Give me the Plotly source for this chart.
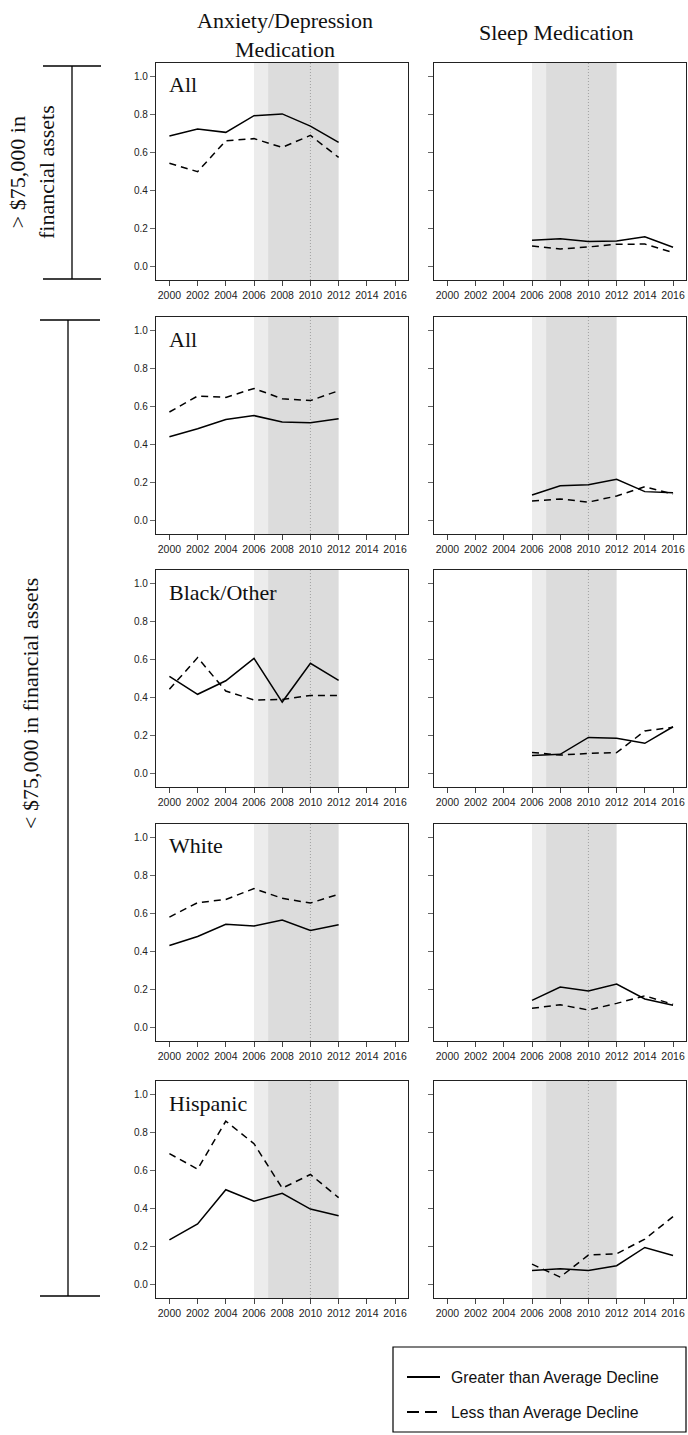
import plotly.graph_objects as go

W, H = 688, 1435

years_anx = [2000, 2002, 2004, 2006, 2008, 2010, 2012]
years_sleep = [2006, 2008, 2010, 2012, 2014, 2016]
tick_years = [2000, 2002, 2004, 2006, 2008, 2010, 2012, 2014, 2016]
y_ticks = [0.0, 0.2, 0.4, 0.6, 0.8, 1.0]

row_labels = ["All", "All", "Black/Other", "White", "Hispanic"]
col_titles = ["Anxiety/Depression<br>Medication", "Sleep Medication"]

# Anxiety/Depression medication: greater (solid) / less (dashed) than average decline
anx_greater = [
    [0.688, 0.725, 0.707, 0.795, 0.804, 0.740, 0.654],
    [0.442, 0.484, 0.533, 0.553, 0.519, 0.516, 0.537],
    [0.512, 0.418, 0.489, 0.607, 0.377, 0.581, 0.491],
    [0.433, 0.480, 0.544, 0.535, 0.567, 0.512, 0.542],
    [0.236, 0.320, 0.500, 0.439, 0.481, 0.398, 0.363],
]
anx_less = [
    [0.544, 0.500, 0.663, 0.674, 0.628, 0.691, 0.575],
    [0.572, 0.656, 0.649, 0.696, 0.642, 0.632, 0.684],
    [0.444, 0.611, 0.435, 0.388, 0.391, 0.412, 0.412],
    [0.582, 0.658, 0.675, 0.732, 0.681, 0.656, 0.702],
    [0.690, 0.608, 0.861, 0.742, 0.508, 0.580, 0.458],
]
# Sleep medication
sleep_greater = [
    [0.139, 0.147, 0.132, 0.135, 0.158, 0.102],
    [0.135, 0.184, 0.189, 0.218, 0.153, 0.147],
    [0.096, 0.102, 0.191, 0.186, 0.160, 0.247],
    [0.144, 0.214, 0.193, 0.230, 0.151, 0.118],
    [0.075, 0.084, 0.075, 0.100, 0.196, 0.154],
]
sleep_less = [
    [0.109, 0.093, 0.104, 0.118, 0.119, 0.075],
    [0.104, 0.114, 0.098, 0.130, 0.179, 0.140],
    [0.112, 0.098, 0.107, 0.111, 0.225, 0.244],
    [0.102, 0.121, 0.093, 0.128, 0.168, 0.123],
    [0.108, 0.040, 0.156, 0.163, 0.240, 0.358],
]

legend_labels = ["Greater than Average Decline", "Less than Average Decline"]
group_labels = ["&gt; $75,000 in<br>financial assets", "&lt; $75,000 in financial assets"]

# shaded periods and reference line
light_band = (2006, 2007)
dark_band = (2007, 2012)
ref_year = 2010

X_RANGE = [1999.05, 2016.92]
Y_RANGE = [-0.07, 1.072]

# layout (pixels)
col_x = [(156, 408), (434, 686)]
row_top = [63, 317, 570, 824, 1081]
panel_h = 217

SERIF = "Liberation Serif"
SANS = "Liberation Sans"
DASH = "7px,5px"
LEGEND_DASH = "12px,6px"

def px_x(p):
    return p / W

def px_y(p):
    return 1 - p / H

fig = go.Figure()
layout = dict(
    width=W, height=H, margin=dict(l=0, r=0, t=0, b=0),
    paper_bgcolor="white", plot_bgcolor="white", showlegend=False,
)
shapes = []
annotations = []

idx = 0
for r in range(5):
    for c in range(2):
        idx += 1
        xa = "xaxis" if idx == 1 else f"xaxis{idx}"
        ya = "yaxis" if idx == 1 else f"yaxis{idx}"
        xr = "x" if idx == 1 else f"x{idx}"
        yr = "y" if idx == 1 else f"y{idx}"
        x0, x1 = col_x[c]
        top = row_top[r]
        bot = top + panel_h
        layout[xa] = dict(
            domain=[px_x(x0), px_x(x1)], anchor=yr, range=X_RANGE,
            tickvals=tick_years, ticktext=[str(t) for t in tick_years],
            showgrid=False, zeroline=False, showline=True, mirror=True,
            linecolor="#222", linewidth=1.2, ticks="outside", ticklen=5,
            tickcolor="#444", tickwidth=1,
            tickfont=dict(family=SANS, size=10.5, color="#222"),
        )
        layout[ya] = dict(
            domain=[px_y(bot), px_y(top)], anchor=xr, range=Y_RANGE,
            tickvals=y_ticks, ticktext=[f"{v:.1f}" for v in y_ticks],
            showticklabels=(c == 0),
            showgrid=False, zeroline=False, showline=True, mirror=True,
            linecolor="#222", linewidth=1.2, ticks="outside", ticklen=5,
            tickcolor="#666", tickwidth=1,
            tickfont=dict(family=SANS, size=10, color="#222"),
        )
        # shading
        shapes.append(dict(type="rect", xref=xr, yref=f"{yr} domain",
                           x0=light_band[0], x1=light_band[1], y0=0, y1=1,
                           fillcolor="#ececec", line=dict(width=0), layer="below"))
        shapes.append(dict(type="rect", xref=xr, yref=f"{yr} domain",
                           x0=dark_band[0], x1=dark_band[1], y0=0, y1=1,
                           fillcolor="#dcdcdc", line=dict(width=0), layer="below"))
        shapes.append(dict(type="line", xref=xr, yref=f"{yr} domain",
                           x0=ref_year, x1=ref_year, y0=0, y1=1,
                           line=dict(color="#a0a0a0", width=1, dash="1px,2px"), layer="below"))
        if c == 0:
            xs, g, l = years_anx, anx_greater[r], anx_less[r]
        else:
            xs, g, l = years_sleep, sleep_greater[r], sleep_less[r]
        fig.add_trace(go.Scatter(x=xs, y=g, mode="lines", xaxis=xr, yaxis=yr,
                                 line=dict(color="black", width=1.5),
                                 name=legend_labels[0], hoverinfo="skip"))
        fig.add_trace(go.Scatter(x=xs, y=l, mode="lines", xaxis=xr, yaxis=yr,
                                 line=dict(color="black", width=1.5, dash=DASH),
                                 name=legend_labels[1], hoverinfo="skip"))
        if c == 0:
            annotations.append(dict(xref="paper", yref="paper", x=px_x(167), y=px_y(top + 22),
                                    xanchor="left", yanchor="middle", showarrow=False,
                                    text=row_labels[r],
                                    font=dict(family=SERIF, size=22, color="#111")))

# column titles
annotations.append(dict(xref="paper", yref="paper", x=px_x(285), y=px_y(35),
                        xanchor="center", yanchor="middle", showarrow=False,
                        text=col_titles[0], font=dict(family=SERIF, size=22, color="#111")))
annotations.append(dict(xref="paper", yref="paper", x=px_x(556), y=px_y(33),
                        xanchor="center", yanchor="middle", showarrow=False,
                        text=col_titles[1], font=dict(family=SERIF, size=22, color="#111")))

# group brackets
def bracket(xv, y0, y1, xc0, xc1):
    shapes.append(dict(type="line", xref="paper", yref="paper", x0=px_x(xv), x1=px_x(xv),
                       y0=px_y(y0), y1=px_y(y1), line=dict(color="black", width=1.3)))
    for yy in (y0, y1):
        shapes.append(dict(type="line", xref="paper", yref="paper", x0=px_x(xc0), x1=px_x(xc1),
                           y0=px_y(yy), y1=px_y(yy), line=dict(color="black", width=1.3)))

bracket(72, 66, 279, 43, 101)
bracket(68, 320, 1296, 40, 100)

annotations.append(dict(xref="paper", yref="paper", x=px_x(32), y=px_y(172),
                        xanchor="center", yanchor="middle", showarrow=False, textangle=-90,
                        text=group_labels[0], font=dict(family=SERIF, size=22, color="#111")))
annotations.append(dict(xref="paper", yref="paper", x=px_x(30), y=px_y(704),
                        xanchor="center", yanchor="middle", showarrow=False, textangle=-90,
                        text=group_labels[1], font=dict(family=SERIF, size=22, color="#111")))

# legend box
shapes.append(dict(type="rect", xref="paper", yref="paper", x0=px_x(393), x1=px_x(686),
                   y0=px_y(1432), y1=px_y(1347), line=dict(color="black", width=1.2),
                   fillcolor="white"))
for i, (yy, dash) in enumerate([(1377, "solid"), (1412, LEGEND_DASH)]):
    shapes.append(dict(type="line", xref="paper", yref="paper", x0=px_x(407), x1=px_x(440),
                       y0=px_y(yy), y1=px_y(yy), line=dict(color="black", width=2, dash=dash)))
    annotations.append(dict(xref="paper", yref="paper", x=px_x(449), y=px_y(yy),
                            xanchor="left", yanchor="middle", showarrow=False,
                            text=legend_labels[i], font=dict(family=SANS, size=15.8, color="#111")))

layout["shapes"] = shapes
layout["annotations"] = annotations
fig.update_layout(**layout)
fig.write_html("out.html")
